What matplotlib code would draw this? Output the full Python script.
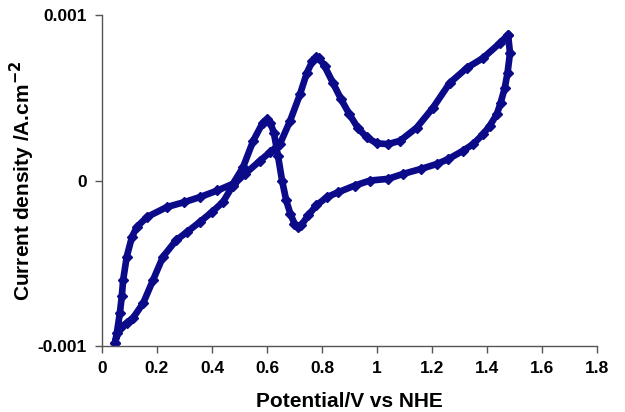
import matplotlib.pyplot as plt
from matplotlib.ticker import FormatStrFormatter

plt.rcParams['font.family'] = ['Liberation Sans', 'DejaVu Sans']

# Forward (anodic) scan, potential in V vs NHE, current in mA.cm-2 (x1e-3 A.cm-2)
fwd_E = [0.047, 0.065, 0.09, 0.113, 0.15, 0.186, 0.222, 0.27, 0.31, 0.356,
         0.40, 0.44, 0.476, 0.52, 0.575, 0.61, 0.647, 0.684, 0.72, 0.745,
         0.765, 0.778, 0.79, 0.81, 0.84, 0.87, 0.90, 0.93, 0.963, 1.0,
         1.04, 1.084, 1.145, 1.204, 1.265, 1.327, 1.386, 1.447, 1.477]
fwd_j = [-0.98, -0.89, -0.86, -0.83, -0.74, -0.60, -0.46, -0.36, -0.31, -0.25,
         -0.19, -0.13, -0.03, 0.04, 0.12, 0.17, 0.22, 0.36, 0.52, 0.65,
         0.72, 0.745, 0.74, 0.69, 0.59, 0.49, 0.40, 0.32, 0.26, 0.225,
         0.22, 0.24, 0.32, 0.44, 0.59, 0.68, 0.74, 0.83, 0.88]

# Reverse (cathodic) scan
rev_E = [1.477, 1.484, 1.475, 1.465, 1.45, 1.436, 1.41, 1.386, 1.35, 1.313,
         1.26, 1.218, 1.16, 1.095, 1.04, 0.975, 0.92, 0.86, 0.818, 0.78,
         0.75, 0.725, 0.713, 0.70, 0.685, 0.67, 0.655, 0.64, 0.625, 0.612,
         0.60, 0.585, 0.55, 0.513, 0.476, 0.42, 0.356, 0.30, 0.236, 0.164,
         0.127, 0.109, 0.09, 0.077, 0.072, 0.065, 0.054, 0.047]
rev_j = [0.88, 0.77, 0.65, 0.56, 0.47, 0.40, 0.33, 0.28, 0.22, 0.18,
         0.13, 0.10, 0.07, 0.04, 0.01, 0.0, -0.03, -0.07, -0.10, -0.15,
         -0.21, -0.27, -0.28, -0.26, -0.20, -0.12, 0.0, 0.15, 0.29, 0.35,
         0.37, 0.35, 0.24, 0.08, -0.02, -0.06, -0.10, -0.13, -0.16, -0.22,
         -0.28, -0.34, -0.46, -0.60, -0.70, -0.80, -0.92, -0.98]

E = fwd_E + rev_E
j = [v * 1e-3 for v in fwd_j + rev_j]

fig = plt.figure(figsize=(6.25, 4.12), dpi=100)
ax = fig.add_axes([0.1632, 0.160, 0.7918, 0.8036])

ax.plot(E, j, color='#0b0b8a', lw=4.8, marker='D', ms=5,
        solid_joinstyle='round', solid_capstyle='round')

ax.set_xlim(0, 1.8)
ax.set_ylim(-0.001, 0.001)
ax.set_xticks([0, 0.2, 0.4, 0.6, 0.8, 1.0, 1.2, 1.4, 1.6, 1.8])
ax.set_yticks([-0.001, 0, 0.001])
ax.xaxis.set_major_formatter(FormatStrFormatter('%g'))
ax.yaxis.set_major_formatter(FormatStrFormatter('%g'))

for side in ['top', 'right']:
    ax.spines[side].set_visible(False)
for side in ['left', 'bottom']:
    ax.spines[side].set_color('#555555')
    ax.spines[side].set_linewidth(1.0)

ax.tick_params(direction='out', length=5, width=1, color='#555555',
               labelsize=12.5, pad=6)
for lab in ax.get_xticklabels() + ax.get_yticklabels():
    lab.set_fontweight('bold')

ax.set_xlabel('Potential/V vs NHE', fontsize=15, fontweight='bold', labelpad=11)
ax.set_ylabel('Current density /A.cm$^{\\mathbf{-2}}$', fontsize=15,
              fontweight='bold', labelpad=0)

fig.savefig('out.png', dpi=100)
